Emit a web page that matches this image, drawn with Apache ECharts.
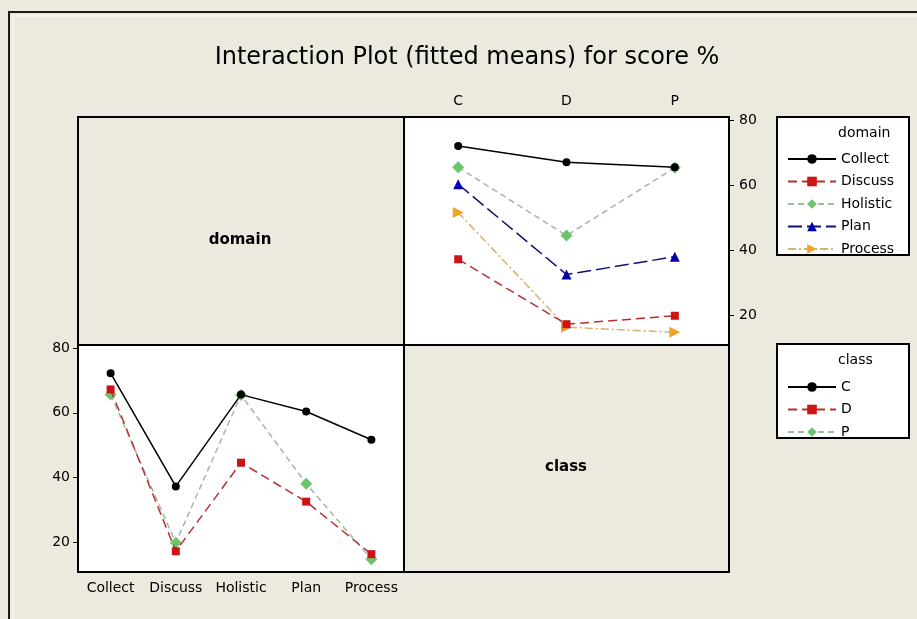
<!DOCTYPE html>
<html>
<head>
<meta charset="utf-8">
<script src="https://cdn.jsdelivr.net/npm/echarts@6/dist/echarts.min.js"></script>
<style>
html, body { margin: 0; padding: 0; background: #ECE9DF; }
#main { width: 917px; height: 619px; }
</style>
</head>
<body>
<div id="main"></div>
<script>
// fitted means of score % by domain and class
const domains = ['Collect', 'Discuss', 'Holistic', 'Plan', 'Process'];
const classes = ['C', 'D', 'P'];
const classC = [72.2, 37.3, 65.6, 60.4, 51.7];
const classD = [67.2, 17.3, 44.6, 32.6, 16.4];
const classP = [65.6, 19.9, 65.5, 38.1, 14.8];
const yTicks = [20, 40, 60, 80];

const font = 'DejaVu Sans';

// marker / line look per domain (top right panel)
const domainStyle = [
    { symbol: 'circle', size: 8, color: '#000000', line: '#000000', type: 'solid', rotate: 0 },
    { symbol: 'rect', size: 8, color: '#CC1414', line: '#B83030', type: [9, 5], rotate: 0 },
    { symbol: 'diamond', size: 12, color: '#6CC46C', line: '#A3B8A3', type: [6, 4], rotate: 0 },
    { symbol: 'triangle', size: 10, color: '#0000B4', line: '#101070', type: [14, 5], rotate: 0 },
    { symbol: 'triangle', size: 11, color: '#EFA22A', line: '#D8B070', type: [8, 3, 2, 3], rotate: -90 }
];
// marker / line look per class (bottom left panel)
const classStyle = [domainStyle[0], domainStyle[1], domainStyle[2]];
const classData = [classC, classD, classP];

let series = [];
domains.forEach(function (d, i) {
    let s = domainStyle[i];
    series.push({
        name: d,
        type: 'line',
        xAxisIndex: 0,
        yAxisIndex: 0,
        data: [classC[i], classD[i], classP[i]],
        symbol: s.symbol,
        symbolSize: s.size,
        symbolRotate: s.rotate,
        itemStyle: { color: s.color },
        lineStyle: { color: s.line, width: 1.5, type: s.type },
        z: 3 + (5 - i)
    });
});
classes.forEach(function (c, i) {
    let s = classStyle[i];
    series.push({
        name: c,
        type: 'line',
        xAxisIndex: 1,
        yAxisIndex: 1,
        data: classData[i],
        symbol: s.symbol,
        symbolSize: s.size,
        itemStyle: { color: s.color },
        lineStyle: { color: s.line, width: 1.5, type: s.type },
        z: 3 + (3 - i)
    });
});

const labelStyle = { color: '#000', fontFamily: font, fontSize: 14 };

let myChart = echarts.init(document.getElementById('main'));
let option = {
    animation: false,
    backgroundColor: '#ECE9DF',
    grid: [
        { left: 404, top: 117, width: 325, height: 228, show: true, backgroundColor: '#fff', borderColor: '#000', borderWidth: 2 },
        { left: 78, top: 345, width: 326, height: 227, show: true, backgroundColor: '#fff', borderColor: '#000', borderWidth: 2 }
    ],
    xAxis: [
        {
            type: 'category', gridIndex: 0, position: 'top', data: classes,
            axisLine: { lineStyle: { color: '#000', width: 2 } },
            axisTick: { alignWithLabel: true, length: 6, lineStyle: { color: '#000' } },
            axisLabel: Object.assign({ margin: 9 }, labelStyle),
            splitLine: { show: false }
        },
        {
            type: 'category', gridIndex: 1, position: 'bottom', data: domains,
            axisLine: { lineStyle: { color: '#000', width: 2 } },
            axisTick: { alignWithLabel: true, length: 6, lineStyle: { color: '#000' } },
            axisLabel: Object.assign({ margin: 9, interval: 0 }, labelStyle),
            splitLine: { show: false }
        }
    ],
    yAxis: [
        {
            type: 'value', gridIndex: 0, position: 'right', min: 10.9, max: 81.1,
            axisLine: { show: true, lineStyle: { color: '#000', width: 2 } },
            axisTick: { show: true, length: 5, customValues: yTicks, lineStyle: { color: '#000' } },
            axisLabel: Object.assign({ margin: 10, customValues: yTicks }, labelStyle),
            splitLine: { show: false }
        },
        {
            type: 'value', gridIndex: 1, position: 'left', min: 10.9, max: 80.9,
            axisLine: { show: true, lineStyle: { color: '#000', width: 2 } },
            axisTick: { show: true, length: 5, customValues: yTicks, lineStyle: { color: '#000' } },
            axisLabel: Object.assign({ margin: 8, customValues: yTicks }, labelStyle),
            splitLine: { show: false }
        }
    ],
    legend: [
        {
            data: domains, orient: 'vertical', left: 782, top: 147,
            itemWidth: 48, itemHeight: 12, itemGap: 8.5, selectedMode: false,
            textStyle: { color: '#000', fontFamily: font, fontSize: 14, lineHeight: 14 }
        },
        {
            data: classes, orient: 'vertical', left: 782, top: 375,
            itemWidth: 48, itemHeight: 12, itemGap: 8.5, selectedMode: false,
            textStyle: { color: '#000', fontFamily: font, fontSize: 14, lineHeight: 14 }
        }
    ],
    graphic: [
        // outer frame
        { type: 'rect', shape: { x: 9, y: 12, width: 930, height: 630 }, style: { fill: 'none', stroke: '#1a1a1a', lineWidth: 2 }, z: 1 },
        { type: 'rect', shape: { x: 13, y: 16, width: 930, height: 630 }, style: { fill: 'none', stroke: '#F8F6EE', lineWidth: 1.5 }, z: 1 },
        // empty panels of the matrix
        { type: 'rect', shape: { x: 78, y: 117, width: 326, height: 228 }, style: { fill: 'none', stroke: '#000', lineWidth: 2 }, z: 1 },
        { type: 'rect', shape: { x: 404, y: 345, width: 325, height: 227 }, style: { fill: 'none', stroke: '#000', lineWidth: 2 }, z: 1 },
        { type: 'text', x: 240, y: 240, style: { text: 'domain', fill: '#000', font: 'bold 15px "DejaVu Sans"', textAlign: 'center', textVerticalAlign: 'middle' } },
        { type: 'text', x: 566, y: 467, style: { text: 'class', fill: '#000', font: 'bold 15px "DejaVu Sans"', textAlign: 'center', textVerticalAlign: 'middle' } },
        // title
        { type: 'text', x: 467, y: 58, style: { text: 'Interaction Plot (fitted means) for score %', fill: '#000', font: '24px "DejaVu Sans"', textAlign: 'center', textVerticalAlign: 'middle' } },
        // legend boxes
        { type: 'rect', shape: { x: 777, y: 117, width: 132, height: 138 }, style: { fill: '#fff', stroke: '#000', lineWidth: 2 }, z: 1 },
        { type: 'text', x: 838, y: 133, style: { text: 'domain', fill: '#000', font: '14px "DejaVu Sans"', textVerticalAlign: 'middle' }, z: 2 },
        { type: 'rect', shape: { x: 777, y: 344, width: 132, height: 94 }, style: { fill: '#fff', stroke: '#000', lineWidth: 2 }, z: 1 },
        { type: 'text', x: 838, y: 360, style: { text: 'class', fill: '#000', font: '14px "DejaVu Sans"', textVerticalAlign: 'middle' }, z: 2 }
    ],
    series: series
};
myChart.setOption(option);
</script>
</body>
</html>
